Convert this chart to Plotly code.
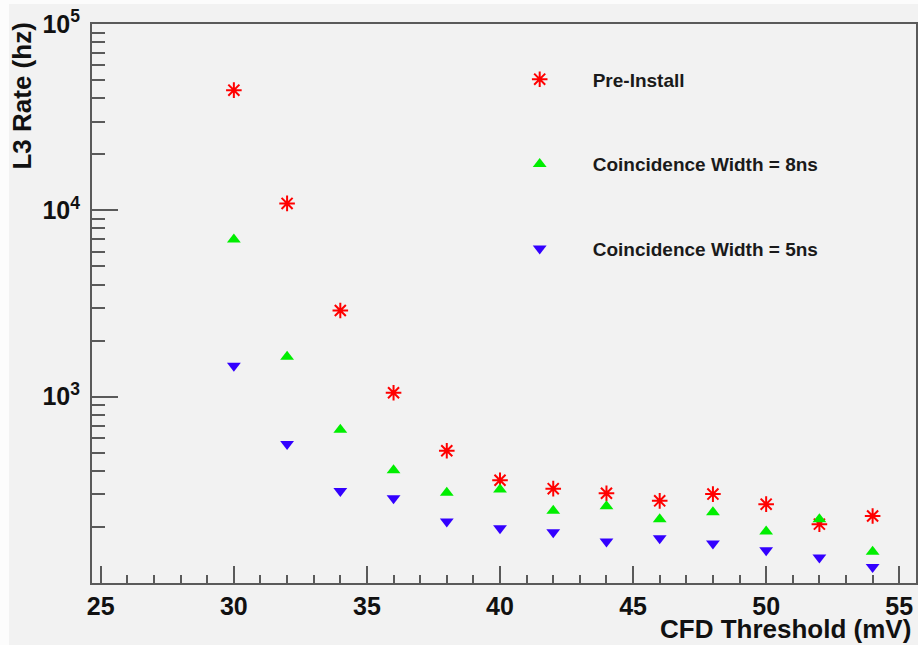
import plotly.graph_objects as go

# ---- data ----
cfd_threshold_mv = [30, 32, 34, 36, 38, 40, 42, 44, 46, 48, 50, 52, 54]
pre_install_hz = [44200, 10900, 2900, 1050, 513, 356, 321, 303, 276, 300, 265, 207, 229]
coinc_8ns_hz = [6980, 1640, 665, 403, 305, 318, 244, 258, 220, 240, 189, 220, 147]
coinc_5ns_hz = [1468, 557, 312, 285, 214, 197, 187, 167, 174, 163, 150, 137, 122]

series_names = ["Pre-Install", "Coincidence Width = 8ns", "Coincidence Width = 5ns"]

y_major_vals = [1e3, 1e4, 1e5]
y_major_text = ["10<sup>3</sup>", "10<sup>4</sup>", "10<sup>5</sup>"]
y_minor_vals = [m * 10 ** e for e in (2, 3, 4) for m in range(2, 10)]

BG = "#f2f2f2"
AX = "#5a5a5a"
FONT = "Liberation Sans"

fig = go.Figure()

fig.add_trace(go.Scatter(
    x=cfd_threshold_mv, y=pre_install_hz, mode="markers", name=series_names[0],
    legendgroup="a",
    marker=dict(symbol="asterisk-open", size=13, color="#ff0000",
                line=dict(color="#ff0000", width=2)),
))
fig.add_trace(go.Scatter(
    x=cfd_threshold_mv, y=coinc_8ns_hz, mode="markers", name=series_names[1],
    legendgroup="b",
    marker=dict(symbol="triangle-up", size=12, color="#00ee00", line=dict(width=0)),
))
fig.add_trace(go.Scatter(
    x=cfd_threshold_mv, y=coinc_5ns_hz, mode="markers", name=series_names[2],
    legendgroup="c",
    marker=dict(symbol="triangle-down", size=12, color="#3300ff", line=dict(width=0)),
))

fig.update_layout(
    width=918, height=645,
    margin=dict(l=92, r=2, t=24, b=62),
    paper_bgcolor=BG, plot_bgcolor=BG,
    font=dict(family=FONT, color="#000000"),
    showlegend=True,
    legend=dict(
        x=0.479, y=0.935, xanchor="left", yanchor="top",
        bgcolor="rgba(0,0,0,0)", borderwidth=0,
        font=dict(family=FONT, size=19, weight="bold", color="#1a1a1a"),
        itemwidth=96, tracegroupgap=57,
    ),
    xaxis=dict(
        range=[24.67, 55.63], tick0=25, dtick=5,
        showgrid=False, zeroline=False,
        showline=True, linecolor=AX, linewidth=2, mirror=True,
        ticks="inside", ticklen=17, tickwidth=2, tickcolor=AX,
        minor=dict(dtick=1, tick0=25, ticks="inside", ticklen=8, tickwidth=2,
                   tickcolor=AX, showgrid=False),
        tickfont=dict(family=FONT, size=25, weight="bold", color="#111111"),
        ticklabeloverflow="allow",
        automargin=False,
    ),
    yaxis=dict(
        type="log", range=[1.99999, 5.0005],
        tickvals=y_major_vals, ticktext=y_major_text,
        showgrid=False, zeroline=False,
        showline=True, linecolor=AX, linewidth=2, mirror=True,
        ticks="inside", ticklen=26, tickwidth=2, tickcolor=AX,
        minor=dict(tickvals=y_minor_vals, ticks="inside", ticklen=13, tickwidth=2,
                   tickcolor=AX, showgrid=False),
        tickfont=dict(family=FONT, size=25, weight="bold", color="#111111"),
        ticklabelstandoff=5,
        ticklabeloverflow="allow",
        automargin=False,
    ),
    annotations=[
        dict(text="L3 Rate (hz)", xref="paper", yref="paper",
             x=-0.085, y=1.007, xanchor="center", yanchor="top", textangle=-90,
             showarrow=False, font=dict(family=FONT, size=26, weight="bold", color="#111111")),
        dict(text="CFD Threshold (mV)", xref="paper", yref="paper",
             x=0.996, y=-0.083, xanchor="right", yanchor="middle",
             showarrow=False, font=dict(family=FONT, size=26, weight="bold", color="#111111")),
    ],
    shapes=[
        dict(type="rect", xref="paper", yref="paper", x0=-0.12, x1=-0.1007,
             y0=-0.13, y1=1.05, fillcolor="#fcfcfc", line=dict(width=0), layer="below"),
        dict(type="rect", xref="paper", yref="paper", x0=-0.12, x1=1.01,
             y0=1.0358, y1=1.05, fillcolor="#fcfcfc", line=dict(width=0), layer="below"),
    ],
)

fig.write_html(
    "out.html",
    config={"displayModeBar": False},
    post_script="document.body.style.margin='0';document.body.style.overflow='hidden';",
)
